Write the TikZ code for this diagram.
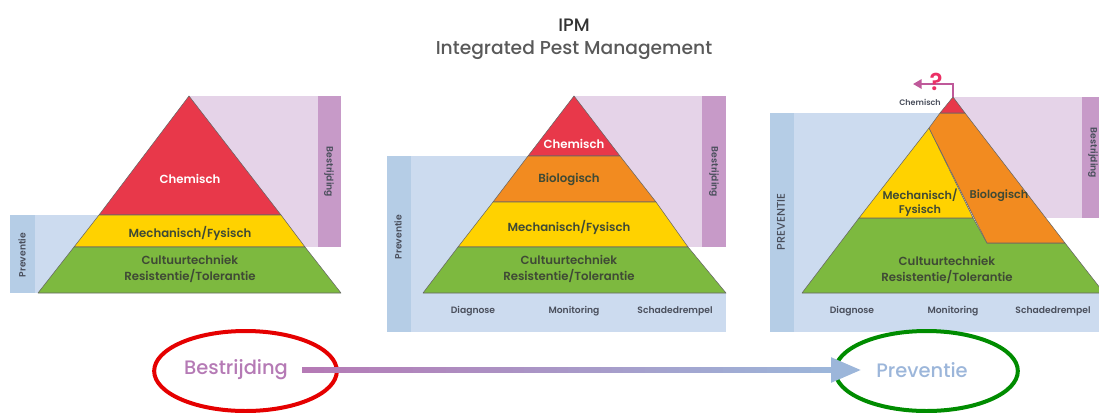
\documentclass[tikz,border=0pt]{standalone}
\usepackage{fontspec}
\setmainfont{Poppins SemiBold}
\newfontfamily\titlefont{Poppins Medium}
\usetikzlibrary{calc,arrows.meta,shapes.geometric}
\definecolor{pyred}{HTML}{E8384A}
\definecolor{pyyellow}{HTML}{FFD200}
\definecolor{pygreen}{HTML}{7DB93F}
\definecolor{pyorange}{HTML}{F28B20}
\definecolor{palepurple}{HTML}{E5D3E8}
\definecolor{darkpurple}{HTML}{C79AC8}
\definecolor{paleblue}{HTML}{CCDBEF}
\definecolor{darkblue}{HTML}{B5CDE6}
\definecolor{inktext}{HTML}{3F4A35}
\definecolor{bluetext}{HTML}{4A4F5C}
\definecolor{arrowA}{HTML}{B57AB5}
\definecolor{arrowB}{HTML}{9CB6DA}
\tikzset{
  x=0.75pt,y=-0.75pt,
  band/.style={draw=black!60,line width=0.4pt,line join=round},
  lab/.style={font=\fontsize{8.8}{11.5}\selectfont,text=inktext,align=center,inner sep=0pt},
  whitelab/.style={lab,text=white},
  small/.style={font=\fontsize{6.9}{9}\selectfont,text=bluetext,inner sep=0pt},
  side/.style={small,text=bluetext},
  ring/.style={ellipse,draw,line width=3pt,minimum width=137pt,minimum height=60pt,inner sep=0pt},
  goal/.style={font=\titlefont\fontsize{14.6}{16}\selectfont,inner ysep=0pt},
}
\begin{document}
\begin{tikzpicture}
\useasboundingbox (0,0) rectangle (1099,412);
\clip (0,0) rectangle (1099,412);
% titles
\node[font=\titlefont\fontsize{13.5}{15}\selectfont,text=black!80] (title) at (574,25) {IPM};
\node[font=\titlefont\fontsize{14}{16}\selectfont,text=black!65] (subtitle) at (574,50) {Integrated Pest Management};
% ---- pyramid 1
\fill[palepurple] (189,96) rectangle (318,247);
\fill[darkpurple] (318,96) rectangle (341,247);
\fill[paleblue] (35,215) rectangle (120,293);
\fill[darkblue] (10,215) rectangle (35,293);
\draw[band,fill=pyred] (189,96) -- (281,215) -- (99,215) -- cycle;
\draw[band,fill=pyyellow] (99,215) -- (281,215) -- (305,247) -- (74,247) -- cycle;
\draw[band,fill=pygreen] (74,247) -- (305,247) -- (341,293) -- (38,293) -- cycle;
\node[whitelab] (a1) at (190,179) {Chemisch};
\node[lab] (a2) at (190,233) {Mechanisch/Fysisch};
\node[lab] (a3) at (190,269) {Cultuurtechniek\\Resistentie/Tolerantie};
\node[side,rotate=90] (a4) at (22,255) {Preventie};
\node[side,rotate=-90] (a5) at (329,172) {Bestrijding};
% ---- pyramid 2
\fill[paleblue] (411,156) rectangle (574,293);
\fill[paleblue] (411,293) rectangle (726,332);
\fill[darkblue] (387,156) rectangle (411,332);
\fill[palepurple] (574,96) rectangle (702,247);
\fill[darkpurple] (702,96) rectangle (726,247);
\draw[band,fill=pyred] (574,96) -- (620,156) -- (528,156) -- cycle;
\draw[band,fill=pyorange] (528,156) -- (620,156) -- (656,202) -- (493,202) -- cycle;
\draw[band,fill=pyyellow] (493,202) -- (656,202) -- (688,247) -- (458,247) -- cycle;
\draw[band,fill=pygreen] (458,247) -- (688,247) -- (726,293) -- (423,293) -- cycle;
\node[whitelab] (b1) at (574,144) {Chemisch};
\node[lab] (b2) at (569,179) {Biologisch};
\node[lab] (b3) at (569,227) {Mechanisch/Fysisch};
\node[lab] (b4) at (569,269) {Cultuurtechniek\\Resistentie/Tolerantie};
\node[side,rotate=90] (b5) at (398,237) {Preventie};
\node[side,rotate=-90] (b6) at (714,172) {Bestrijding};
\node[small] (b7) at (473,311) {Diagnose};
\node[small] (b8) at (574,311) {Monitoring};
\node[small] (b9) at (675,311) {Schadedrempel};
% ---- pyramid 3
\fill[paleblue] (794,113) rectangle (953,293);
\fill[paleblue] (794,293) rectangle (1099,332);
\fill[darkblue] (770,113) rectangle (794,332);
\fill[palepurple] (953,97) rectangle (1082,218);
\fill[darkpurple] (1082,97) rectangle (1099,218);
\draw[band,fill=pygreen] (859,218) -- (973,218) -- (987,243) -- (1065,243) -- (1104,293) -- (802,293) -- cycle;
\draw[band,fill=pyyellow] (929,128) -- (973,218) -- (859,218) -- cycle;
\draw[band,fill=pyorange] (940,113) -- (965,113) -- (1065,243) -- (987,243) -- (929,128) -- cycle;
\draw[band,fill=pyred] (953,97) -- (965,113) -- (940,113) -- cycle;
\node[lab,font=\fontsize{8.4}{10.5}\selectfont] (c1) at (920,203) {Mechanisch/\\Fysisch};
\node[lab,font=\fontsize{8.4}{10.5}\selectfont] (c2) at (999,196) {Biologisch};
\node[lab] (c3) at (947,270) {Cultuurtechniek\\Resistentie/Tolerantie};
\node[side,rotate=90,font=\titlefont\fontsize{8.4}{10}\selectfont] (c4) at (781,222) {PREVENTIE};
\node[side,rotate=-90] (c5) at (1093,153) {Bestrijding};
\node[small] (c6) at (852,311) {Diagnose};
\node[small] (c7) at (953,311) {Monitoring};
\node[small] (c8) at (1053,311) {Schadedrempel};
\node[small,font=\fontsize{6}{8}\selectfont] (c9) at (920,102) {Chemisch};
\coordinate (apex) at (953,97);
\coordinate (qtip) at (913,84);
\draw[purple!45!violet!65!white,line width=2pt,-{Triangle[length=6.5pt,width=7pt]}] (apex) |- (qtip);
\node[font=\fontsize{18}{19}\selectfont,text=pyred!85!magenta,inner sep=0pt] (q) at (936,82) {?};
% ---- bottom
\node[ring,draw=red!90!black] (re) at (245.5,371) {};
\node[ring,draw=green!55!black] (ge) at (926.5,371) {};
\node[goal,text=arrowA,inner xsep=10.5pt] (bt) at (236,370) {Bestrijding};
\node[goal,text=arrowB,inner xsep=11.25pt] (pt) at (922,370) {Preventie};
\foreach \i in {0,...,47}{
  \pgfmathsetmacro{\p}{100-\i*100/47}
  \draw[line width=4pt,color=arrowA!\p!arrowB]
    ($(bt.east)!{\i*0.0198}!(pt.west)$) -- ($(bt.east)!{(\i+1)*0.0198+0.001}!(pt.west)$);
}
\draw[line width=4pt,arrowB,-{Triangle[length=22.5pt,width=18pt]}] ($(bt.east)!0.945!(pt.west)$) -- (pt.west);
\end{tikzpicture}
\end{document}
